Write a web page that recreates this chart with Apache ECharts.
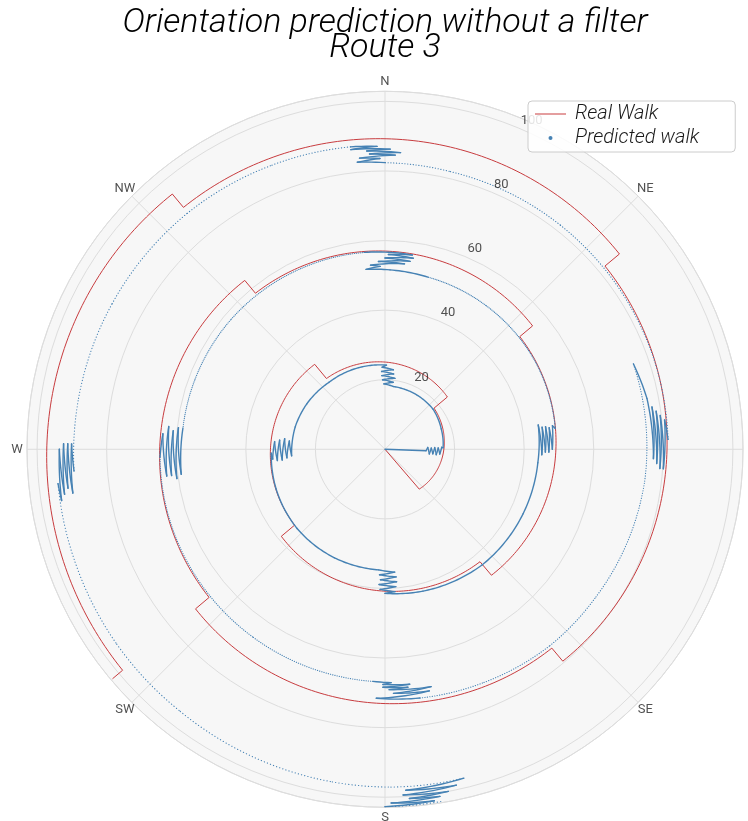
<!DOCTYPE html>
<html>
<head>
<meta charset="utf-8">
<title>Orientation prediction without a filter – Route 3</title>
<script src="https://cdn.jsdelivr.net/npm/echarts@6/dist/echarts.min.js"></script>
<style>
  html, body { margin: 0; padding: 0; background: #ffffff; }
  #chart { width: 748px; height: 821px; }
</style>
</head>
<body>
<div id="chart"></div>
<script>
// Compass labels (every 45 degrees, clockwise from north)
const compassLabels = ['N', 'NE', 'E', 'SE', 'S', 'SW', 'W', 'NW'];
// Radial tick labels
const radiusTicks = [20, 40, 60, 80, 100];

// Real walk: [radius, heading in degrees clockwise from north]
const realWalk = [
  [0, 139.3], [15.1, 139.3], [18.4, 50.0], [23.4, 50.0],
  [26.4, 320.4], [31.7, 320.4], [33.9, 230.0], [38.9, 230.0],
  [42.3, 139.8], [47.4, 139.8], [50.5, 50.1], [55.3, 50.1],
  [58.3, 320.3], [63.1, 320.3], [66.1, 229.9], [71.2, 229.9],
  [74.6, 140.0], [79.5, 140.0], [82.3, 50.2], [87.7, 50.2],
  [90.5, 320.2], [95.5, 320.2], [98.6, 229.9], [102.4, 229.9]
];

// Predicted walk: [radius, heading in degrees clockwise from north]
const predictedWalk = [
  [0, 91.5], [11.8, 92],
  [12.3, 87.5], [12.8, 96], [13.3, 88.5], [13.8, 95.5], [14.3, 88], [14.8, 96], [15.3, 88.5], [15.8, 95], [16.3, 88], [16.7, 88.5],
  [17.2, 70], [18.0, 50], [18.1, 30], [18.2, 8],
  [18.8, 359], [19.4, 7], [20.0, 358], [20.6, 8], [21.2, 357.5], [21.8, 6.5], [22.4, 357.5], [23.0, 6], [23.6, 358], [24.2, 1],
  [24.6, 345], [25.1, 320], [26.0, 300], [26.6, 284], [26.9, 266],
  [27.6, 275], [28.3, 265], [29.0, 276], [29.7, 264], [30.4, 275], [31.1, 264], [31.8, 274], [32.4, 265], [32.7, 268],
  [33.3, 250], [34.0, 228], [34.4, 205], [34.7, 183],
  [35.4, 175.5], [36.1, 182.5], [36.8, 175], [37.5, 182], [38.2, 175], [38.9, 182.5], [39.6, 175.5], [40.3, 182], [41.0, 176], [41.4, 180],
  [42.2, 165], [43.4, 140], [43.8, 115], [44.1, 95], [44.6, 81],
  [45.1, 92], [45.6, 82], [46.1, 91], [46.6, 82], [47.1, 91], [47.6, 82.5], [48.1, 90], [48.6, 82], [49.3, 83],
  [50.0, 60], [50.5, 35], [51.0, 14], [51.6, 1.6],
  [52.0, 354], [52.6, 358.5], [53.1, 355.5], [53.6, 6], [54.0, 358], [54.5, 7.6], [55.0, 0], [55.5, 8.4], [56.0, 1], [56.4, 8], [56.9, 354],
  [57.3, 335], [57.9, 310], [58.2, 290], [58.4, 276],
  [59.0, 263], [59.7, 276], [60.4, 262], [61.1, 275], [61.8, 263], [62.5, 276], [63.2, 263], [64.0, 274], [64.7, 268],
  [65.3, 245], [66.0, 215], [66.8, 183],
  [67.1, 178.5], [67.6, 180.5], [67.9, 174], [68.4, 180.5], [68.7, 174.5], [69.1, 179], [69.5, 169], [70.2, 178], [70.6, 169.6], [71.6, 182], [72.2, 172],
  [72.8, 157], [73.7, 140], [74.0, 125], [75.2, 97], [75.5, 71],
  [76.7, 79], [77.2, 92], [77.7, 81], [78.2, 93], [78.7, 82], [79.2, 94], [79.7, 83], [80.2, 94], [80.8, 84], [81.4, 88],
  [81.6, 60], [81.8, 38], [82.0, 13], [82.4, 0],
  [82.9, 354.5], [83.6, 359], [84.0, 355], [84.6, 2], [85.0, 357], [85.4, 3], [85.9, 356.5], [86.3, 1], [86.7, 353.5], [87.1, 358.5], [87.5, 353.5],
  [87.9, 338], [88.5, 320], [88.9, 298], [89.3, 279], [89.6, 266],
  [90.1, 271], [90.6, 262], [91.2, 271], [91.8, 263], [92.4, 271], [93.0, 262], [93.6, 270], [94.1, 261], [94.5, 264],
  [94.8, 250], [95.3, 234], [95.6, 218], [96.8, 189],
  [97.1, 179], [97.2, 166.5], [98.2, 176.5], [98.7, 168], [99.5, 177], [100.0, 169.5], [100.6, 176], [101.0, 171], [101.7, 179], [102.0, 172], [102.7, 180], [102.5, 171]
];

const RED = '#c83c3f';
const BLUE = '#4682b4';
const GRID = '#dddddd';
const CX = 385, CY = 449.3, R = 358;
const R_MAX = 102.9;
const FONT = 'Roboto, "DejaVu Sans", sans-serif';

// Points along a segment traced in (radius, angle) space, so that
// constant-radius stretches follow the circle instead of a chord.
function spiralPoints(api, a, b) {
  let d = b[1] - a[1];
  if (d > 180) d -= 360;
  else if (d < -180) d += 360;
  const n = Math.max(1, Math.ceil(Math.abs(d)));
  const pts = [];
  for (let k = 0; k <= n; k++) {
    const t = k / n;
    const ang = ((a[1] + d * t) % 360 + 360) % 360;
    pts.push(api.coord([a[0] + (b[0] - a[0]) * t, ang]));
  }
  return pts;
}

function renderRealSegment(params, api) {
  const i = params.dataIndex;
  if (i >= realWalk.length - 1) return null;
  return {
    type: 'polyline',
    shape: { points: spiralPoints(api, realWalk[i], realWalk[i + 1]) },
    style: { stroke: RED, lineWidth: 1, fill: null },
    silent: true
  };
}

// The predicted samples come at a steady rate: on the turning arcs of the
// outer loops they spread into a visible row of dots, while the wobbling
// stretches stay dense enough to read as strokes.
function renderPredictedSegment(params, api) {
  const i = params.dataIndex;
  if (i >= predictedWalk.length - 1) return null;
  const a = predictedWalk[i], b = predictedWalk[i + 1];
  let d = Math.abs(b[1] - a[1]);
  if (d > 180) d = 360 - d;
  const turnRate = d / Math.max(Math.abs(b[0] - a[0]), 0.01);
  const isTurn = d >= 15 || turnRate > 30;
  const pts = spiralPoints(api, a, b);
  const rPx = (a[0] + b[0]) / 2 / R_MAX * R;
  const style = { stroke: BLUE, fill: null, lineCap: 'round', lineJoin: 'round', lineWidth: 1.4 };
  const spacing = 0.0098 * rPx;
  if (isTurn && spacing > 1.6) {
    style.lineWidth = 1.15;
    style.lineDash = [0.2, spacing - 0.2];
  }
  return { type: 'polyline', shape: { points: pts }, style: style, silent: true };
}

// Compass label offset: ten pixels outward from the rim along each bearing
function compassOffset(deg) {
  const a = deg * Math.PI / 180;
  return [10 * Math.sin(a), -10 * Math.cos(a)];
}

const chart = echarts.init(document.getElementById('chart'), null, { renderer: 'canvas' });

chart.setOption({
  animation: false,
  backgroundColor: '#ffffff',
  title: {
    text: 'Orientation prediction without a filter\nRoute 3',
    left: 385,
    top: 11,
    padding: 0,
    textAlign: 'center',
    textStyle: {
      fontFamily: FONT,
      fontStyle: 'italic',
      fontWeight: 300,
      fontSize: 34,
      lineHeight: 25,
      color: '#000000'
    }
  },
  legend: {
    left: 528,
    top: 101,
    orient: 'vertical',
    padding: [3, 36, 4, 7],
    itemGap: 4,
    itemWidth: 31,
    itemHeight: 14,
    backgroundColor: 'rgba(255,255,255,0.85)',
    borderColor: '#cccccc',
    borderWidth: 1,
    borderRadius: 4,
    selectedMode: false,
    z: 10,
    textStyle: {
      fontFamily: FONT,
      fontStyle: 'italic',
      fontWeight: 300,
      fontSize: 20,
      lineHeight: 20,
      color: '#1a1a1a',
      padding: [0, 0, 0, 4]
    },
    data: [
      { name: 'Real Walk', icon: 'path://M0,0M31,14M0,6.5H31V7.5H0Z' },
      { name: 'Predicted walk', icon: 'path://M0,0M31,14M13.5,7A2,2 0 1,0 17.5,7A2,2 0 1,0 13.5,7Z' }
    ]
  },
  // light disc behind the polar grid
  graphic: [{
    type: 'circle',
    z: -10,
    silent: true,
    shape: { cx: CX, cy: CY, r: R },
    style: { fill: '#f7f7f7' }
  }],
  polar: { center: [CX, CY], radius: R },
  angleAxis: {
    type: 'value',
    min: 0,
    max: 360,
    interval: 45,
    startAngle: 90,
    clockwise: true,
    z: 1,
    axisLine: { show: true, lineStyle: { color: GRID, width: 1 } },
    axisTick: { show: false },
    axisLabel: { show: false },
    splitLine: { show: true, lineStyle: { color: GRID, width: 1 } },
    splitArea: { show: false }
  },
  radiusAxis: {
    type: 'value',
    min: 0,
    max: R_MAX,
    interval: 20,
    z: 1,
    axisLine: { show: false },
    axisTick: { show: false },
    axisLabel: { show: false },
    splitLine: { show: true, lineStyle: { color: GRID, width: 1 } },
    splitArea: { show: false }
  },
  series: [
    {
      type: 'custom',
      name: 'Real Walk',
      coordinateSystem: 'polar',
      dimensions: ['radius', 'angle'],
      encode: { radius: 0, angle: 1 },
      data: realWalk,
      itemStyle: { color: RED },
      renderItem: renderRealSegment,
      z: 2
    },
    {
      type: 'custom',
      name: 'Predicted walk',
      coordinateSystem: 'polar',
      dimensions: ['radius', 'angle'],
      encode: { radius: 0, angle: 1 },
      data: predictedWalk,
      itemStyle: { color: BLUE },
      renderItem: renderPredictedSegment,
      z: 3
    },
    {
      // radial tick labels, set along the 22.5 degree bearing
      type: 'scatter',
      name: 'radius labels',
      coordinateSystem: 'polar',
      symbolSize: 1,
      itemStyle: { color: 'rgba(0,0,0,0)' },
      silent: true,
      z: 4,
      data: radiusTicks.map(t => [t, 22.5]),
      label: {
        show: true,
        position: 'inside',
        align: 'left',
        verticalAlign: 'middle',
        offset: [2.5, -7.5],
        color: '#262626',
        fontSize: 13,
        fontFamily: FONT,
        formatter: p => String(p.value[0])
      }
    },
    {
      // compass labels, centred just outside the rim
      type: 'scatter',
      name: 'compass labels',
      coordinateSystem: 'polar',
      symbolSize: 1,
      itemStyle: { color: 'rgba(0,0,0,0)' },
      silent: true,
      z: 4,
      data: compassLabels.map((name, i) => ({
        name: name,
        value: [R_MAX, i * 45],
        label: { offset: compassOffset(i * 45) }
      })),
      label: {
        show: true,
        position: 'inside',
        align: 'center',
        verticalAlign: 'middle',
        color: '#262626',
        fontSize: 13,
        fontFamily: FONT,
        formatter: p => p.name
      }
    }
  ]
});
</script>
</body>
</html>
